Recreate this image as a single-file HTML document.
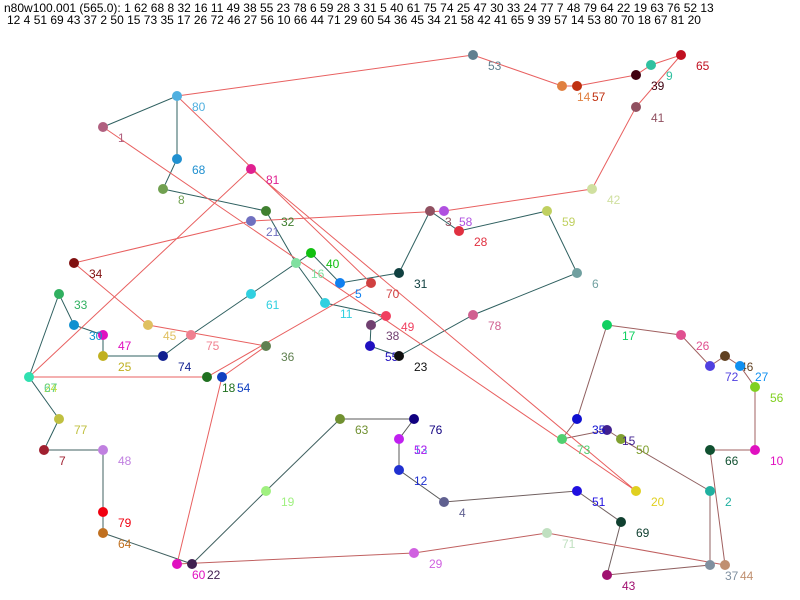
<!DOCTYPE html>
<html><head><meta charset="utf-8"><style>
html,body{margin:0;padding:0;background:#fff;}
svg{display:block;}
text{font-family:"Liberation Sans",Arial,sans-serif;font-size:12px;}
</style></head><body>
<svg width="800" height="600" xmlns="http://www.w3.org/2000/svg">
<rect width="800" height="600" fill="#fff"/>
<text x="4" y="12" fill="#000">n80w100.001 (565.0): 1 62 68 8 32 16 11 49 38 55 23 78 6 59 28 3 31 5 40 61 75 74 25 47 30 33 24 77 7 48 79 64 22 19 63 76 52 13</text>
<text x="7" y="24" fill="#000">12 4 51 69 43 37 2 50 15 73 35 17 26 72 46 27 56 10 66 44 71 29 60 54 36 45 34 21 58 42 41 65 9 39 57 14 53 80 70 18 67 81 20</text>
<g fill="none" stroke-width="1">
<polyline stroke="#2f6060" points="103,127 177,96 177,159 163,189 266,211 296,263 325,303 386,316 371,325 370,346 399,356 473,315 577,273 547,211 459,231 430,211 399,273 340,283 311,253 251,294 191,335 163,356 103,356 103,335 74,325 59,294 29,377 59,419 44,450"/>
<polyline stroke="#406060" points="44,450 103,450 103,512 103,533 192,564 266,491 340,419"/>
<polyline stroke="#585858" points="340,419 414,419 399,439 399,470 444,502"/>
<polyline stroke="#706060" points="444,502 577,491 621,522 607,575"/>
<polyline stroke="#906060" points="607,575 710,565 710,491 621,439 607,430 562,439 577,419 607,325"/>
<polyline stroke="#a06060" points="607,325 681,335 710,366 725,356 740,366 755,387 755,450 710,450 725,565"/>
<polyline stroke="#c06060" points="725,565 547,533 414,553 177,564"/>
<polyline stroke="#e86060" points="177,564 222,377 266,346 148,325 74,263 251,221 444,211 592,189 636,107 681,55 651,65 636,75 577,86 562,86 473,55 177,96 371,283 207,377 29,377 251,169 636,491 103,127"/>
</g>
<g>
<circle cx="103" cy="127" r="5" fill="#b06080"/><text x="118" y="142" fill="#b06080">1</text>
<circle cx="177" cy="96" r="5" fill="#50b0e0"/><text x="192" y="111" fill="#50b0e0">80</text>
<circle cx="177" cy="159" r="5" fill="#2090d0"/><text x="192" y="174" fill="#2090d0">68</text>
<circle cx="163" cy="189" r="5" fill="#70a050"/><text x="178" y="204" fill="#70a050">8</text>
<circle cx="266" cy="211" r="5" fill="#408030"/><text x="281" y="226" fill="#408030">32</text>
<circle cx="296" cy="263" r="5" fill="#80e0a0"/><text x="311" y="278" fill="#80e0a0">16</text>
<circle cx="325" cy="303" r="5" fill="#30d0e0"/><text x="340" y="318" fill="#30d0e0">11</text>
<circle cx="386" cy="316" r="5" fill="#f04060"/><text x="401" y="331" fill="#f04060">49</text>
<circle cx="371" cy="325" r="5" fill="#704070"/><text x="386" y="340" fill="#704070">38</text>
<circle cx="370" cy="346" r="5" fill="#2010c0"/><text x="385" y="361" fill="#2010c0">55</text>
<circle cx="399" cy="356" r="5" fill="#101010"/><text x="414" y="371" fill="#101010">23</text>
<circle cx="473" cy="315" r="5" fill="#d06090"/><text x="488" y="330" fill="#d06090">78</text>
<circle cx="577" cy="273" r="5" fill="#70a0a0"/><text x="592" y="288" fill="#70a0a0">6</text>
<circle cx="547" cy="211" r="5" fill="#c0d060"/><text x="562" y="226" fill="#c0d060">59</text>
<circle cx="459" cy="231" r="5" fill="#e03040"/><text x="474" y="246" fill="#e03040">28</text>
<circle cx="430" cy="211" r="5" fill="#905060"/><text x="445" y="226" fill="#905060">3</text>
<circle cx="444" cy="211" r="5" fill="#b050e0"/><text x="459" y="226" fill="#b050e0">58</text>
<circle cx="399" cy="273" r="5" fill="#104040"/><text x="414" y="288" fill="#104040">31</text>
<circle cx="340" cy="283" r="5" fill="#1080f0"/><text x="355" y="298" fill="#1080f0">5</text>
<circle cx="371" cy="283" r="5" fill="#d04040"/><text x="386" y="298" fill="#d04040">70</text>
<circle cx="311" cy="253" r="5" fill="#10c010"/><text x="326" y="268" fill="#10c010">40</text>
<circle cx="251" cy="294" r="5" fill="#30d0e0"/><text x="266" y="309" fill="#30d0e0">61</text>
<circle cx="191" cy="335" r="5" fill="#f08090"/><text x="206" y="350" fill="#f08090">75</text>
<circle cx="163" cy="356" r="5" fill="#102090"/><text x="178" y="371" fill="#102090">74</text>
<circle cx="103" cy="356" r="5" fill="#c0b020"/><text x="118" y="371" fill="#c0b020">25</text>
<circle cx="103" cy="335" r="5" fill="#e010c0"/><text x="118" y="350" fill="#e010c0">47</text>
<circle cx="74" cy="325" r="5" fill="#1090d0"/><text x="89" y="340" fill="#1090d0">30</text>
<circle cx="59" cy="294" r="5" fill="#30b060"/><text x="74" y="309" fill="#30b060">33</text>
<circle cx="29" cy="377" r="5" fill="#30e0b0"/><text x="44" y="392" fill="#c0e040">24</text><text x="44" y="392" fill="#60d090">67</text>
<circle cx="59" cy="419" r="5" fill="#c0c040"/><text x="74" y="434" fill="#c0c040">77</text>
<circle cx="44" cy="450" r="5" fill="#a02030"/><text x="59" y="465" fill="#a02030">7</text>
<circle cx="103" cy="450" r="5" fill="#c080e0"/><text x="118" y="465" fill="#c080e0">48</text>
<circle cx="103" cy="512" r="5" fill="#f00010"/><text x="118" y="527" fill="#f00010">79</text>
<circle cx="103" cy="533" r="5" fill="#c07020"/><text x="118" y="548" fill="#c07020">64</text>
<circle cx="177" cy="564" r="5" fill="#e010c0"/><text x="192" y="579" fill="#e010c0">60</text>
<circle cx="192" cy="564" r="5" fill="#402050"/><text x="207" y="579" fill="#402050">22</text>
<circle cx="266" cy="491" r="5" fill="#a0f080"/><text x="281" y="506" fill="#a0f080">19</text>
<circle cx="340" cy="419" r="5" fill="#709030"/><text x="355" y="434" fill="#709030">63</text>
<circle cx="414" cy="419" r="5" fill="#100080"/><text x="429" y="434" fill="#100080">76</text>
<circle cx="399" cy="439" r="5" fill="#c020f0"/><text x="414" y="454" fill="#40a0e0">13</text><text x="414" y="454" fill="#c020f0">52</text>
<circle cx="399" cy="470" r="5" fill="#2030d0"/><text x="414" y="485" fill="#2030d0">12</text>
<circle cx="444" cy="502" r="5" fill="#606090"/><text x="459" y="517" fill="#606090">4</text>
<circle cx="577" cy="491" r="5" fill="#2010e0"/><text x="592" y="506" fill="#2010e0">51</text>
<circle cx="621" cy="522" r="5" fill="#104030"/><text x="636" y="537" fill="#104030">69</text>
<circle cx="607" cy="575" r="5" fill="#a01070"/><text x="622" y="590" fill="#a01070">43</text>
<circle cx="710" cy="565" r="5" fill="#8090a0"/><text x="725" y="580" fill="#8090a0">37</text>
<circle cx="725" cy="565" r="5" fill="#c09070"/><text x="740" y="580" fill="#c09070">44</text>
<circle cx="710" cy="491" r="5" fill="#20b0a0"/><text x="725" y="506" fill="#20b0a0">2</text>
<circle cx="621" cy="439" r="5" fill="#80a030"/><text x="636" y="454" fill="#80a030">50</text>
<circle cx="607" cy="430" r="5" fill="#402090"/><text x="622" y="445" fill="#402090">15</text>
<circle cx="562" cy="439" r="5" fill="#50d070"/><text x="577" y="454" fill="#50d070">73</text>
<circle cx="577" cy="419" r="5" fill="#1010d0"/><text x="592" y="434" fill="#1010d0">35</text>
<circle cx="607" cy="325" r="5" fill="#10d060"/><text x="622" y="340" fill="#10d060">17</text>
<circle cx="681" cy="335" r="5" fill="#e05090"/><text x="696" y="350" fill="#e05090">26</text>
<circle cx="710" cy="366" r="5" fill="#5040e0"/><text x="725" y="381" fill="#5040e0">72</text>
<circle cx="725" cy="356" r="5" fill="#604020"/><text x="740" y="371" fill="#604020">46</text>
<circle cx="740" cy="366" r="5" fill="#1090f0"/><text x="755" y="381" fill="#1090f0">27</text>
<circle cx="755" cy="387" r="5" fill="#80d020"/><text x="770" y="402" fill="#80d020">56</text>
<circle cx="755" cy="450" r="5" fill="#e010c0"/><text x="770" y="465" fill="#e010c0">10</text>
<circle cx="710" cy="450" r="5" fill="#105030"/><text x="725" y="465" fill="#105030">66</text>
<circle cx="547" cy="533" r="5" fill="#c0e0c0"/><text x="562" y="548" fill="#c0e0c0">71</text>
<circle cx="414" cy="553" r="5" fill="#d060e0"/><text x="429" y="568" fill="#d060e0">29</text>
<circle cx="222" cy="377" r="5" fill="#1040c0"/><text x="237" y="392" fill="#1040c0">54</text>
<circle cx="207" cy="377" r="5" fill="#207020"/><text x="222" y="392" fill="#207020">18</text>
<circle cx="266" cy="346" r="5" fill="#608050"/><text x="281" y="361" fill="#608050">36</text>
<circle cx="148" cy="325" r="5" fill="#e0c060"/><text x="163" y="340" fill="#e0c060">45</text>
<circle cx="74" cy="263" r="5" fill="#801010"/><text x="89" y="278" fill="#801010">34</text>
<circle cx="251" cy="221" r="5" fill="#7070c0"/><text x="266" y="236" fill="#7070c0">21</text>
<circle cx="592" cy="189" r="5" fill="#d0e0a0"/><text x="607" y="204" fill="#d0e0a0">42</text>
<circle cx="636" cy="107" r="5" fill="#905060"/><text x="651" y="122" fill="#905060">41</text>
<circle cx="681" cy="55" r="5" fill="#c01020"/><text x="696" y="70" fill="#c01020">65</text>
<circle cx="651" cy="65" r="5" fill="#30c0a0"/><text x="666" y="80" fill="#30c0a0">9</text>
<circle cx="636" cy="75" r="5" fill="#400010"/><text x="651" y="90" fill="#400010">39</text>
<circle cx="577" cy="86" r="5" fill="#c03010"/><text x="592" y="101" fill="#c03010">57</text>
<circle cx="562" cy="86" r="5" fill="#e08040"/><text x="577" y="101" fill="#e08040">14</text>
<circle cx="473" cy="55" r="5" fill="#608090"/><text x="488" y="70" fill="#608090">53</text>
<circle cx="251" cy="169" r="5" fill="#e02090"/><text x="266" y="184" fill="#e02090">81</text>
<circle cx="636" cy="491" r="5" fill="#e0d020"/><text x="651" y="506" fill="#e0d020">20</text>
</g>
</svg>
</body></html>
